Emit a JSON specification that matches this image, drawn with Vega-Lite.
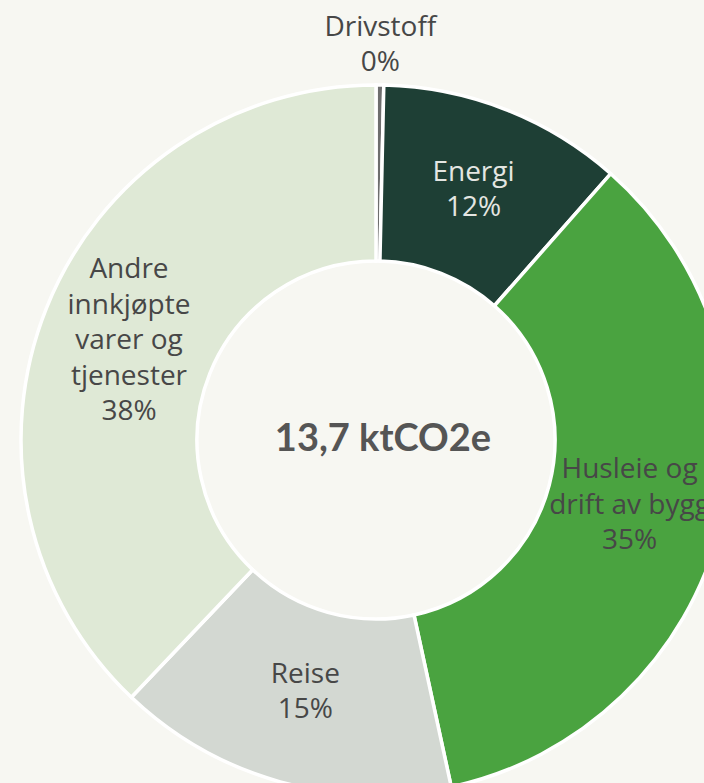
{
  "$schema": "https://vega.github.io/schema/vega-lite/v6.json",
  "width": 752,
  "height": 880,
  "padding": 0,
  "autosize": "none",
  "background": "#f7f7f2",
  "config": {"view": {"stroke": null}},
  "data": {
    "values": [
      {"order": 1, "name": "Drivstoff", "value": 0.35, "lines": 2, "text": "Drivstoff\n0%"},
      {"order": 2, "name": "Energi", "value": 11.15, "lines": 2, "text": "Energi\n12%"},
      {"order": 3, "name": "Husleie og drift av bygg", "value": 35.1, "lines": 3, "text": "Husleie og\ndrift av bygg\n35%"},
      {"order": 4, "name": "Reise", "value": 15.5, "lines": 2, "text": "Reise\n15%"},
      {"order": 5, "name": "Andre innkjøpte varer og tjenester", "value": 37.9, "lines": 5, "text": "Andre\ninnkjøpte\nvarer og\ntjenester\n38%"}
    ]
  },
  "encoding": {
    "theta": {"field": "value", "type": "quantitative", "stack": true},
    "order": {"field": "order", "type": "quantitative"}
  },
  "layer": [
    {
      "mark": {"type": "arc", "radius": 355, "radius2": 179, "stroke": "#ffffff", "strokeWidth": 3.5},
      "encoding": {
        "color": {
          "field": "name",
          "type": "nominal",
          "scale": {
            "domain": ["Drivstoff", "Energi", "Husleie og drift av bygg", "Reise", "Andre innkjøpte varer og tjenester"],
            "range": ["#6e6e6e", "#1e3f35", "#4aa340", "#d3d8d2", "#dfe9d6"]
          },
          "legend": null
        }
      }
    },
    {
      "mark": {"type": "text", "radius": 268, "dy": -17.5, "font": "Open Sans", "fontSize": 28, "lineBreak": "\n", "lineHeight": 35.5, "color": "#e4e6e2"},
      "encoding": {
        "text": {"field": "text", "type": "nominal"},
        "opacity": {"condition": {"test": "datum.name === 'Energi'", "value": 1}, "value": 0}
      }
    },
    {
      "mark": {"type": "text", "radius": 262, "dy": -17.5, "font": "Open Sans", "fontSize": 28, "lineBreak": "\n", "lineHeight": 35.5, "color": "#474747"},
      "encoding": {
        "text": {"field": "text", "type": "nominal"},
        "opacity": {"condition": {"test": "datum.name === 'Reise'", "value": 1}, "value": 0}
      }
    },
    {
      "mark": {"type": "text", "radius": 262, "dy": -35.5, "font": "Open Sans", "fontSize": 28, "lineBreak": "\n", "lineHeight": 35.5, "color": "#474747"},
      "encoding": {
        "text": {"field": "text", "type": "nominal"},
        "opacity": {"condition": {"test": "datum.lines === 3", "value": 1}, "value": 0}
      }
    },
    {
      "mark": {"type": "text", "radius": 266, "dy": -71, "font": "Open Sans", "fontSize": 28, "lineBreak": "\n", "lineHeight": 35.5, "color": "#474747"},
      "encoding": {
        "text": {"field": "text", "type": "nominal"},
        "opacity": {"condition": {"test": "datum.lines === 5", "value": 1}, "value": 0}
      }
    },
    {
      "mark": {"type": "text", "radius": 395, "dy": -17, "font": "Open Sans", "fontSize": 28, "lineBreak": "\n", "lineHeight": 34.5, "color": "#474747"},
      "encoding": {
        "text": {"field": "text", "type": "nominal"},
        "opacity": {"condition": {"test": "datum.name === 'Drivstoff'", "value": 1}, "value": 0}
      }
    },
    {
      "data": {"values": [{"total": "13,7 ktCO2e"}]},
      "mark": {"type": "text", "font": "Lato", "fontSize": 38, "fontWeight": "bold", "color": "#555555", "dx": 7},
      "encoding": {"text": {"field": "total", "type": "nominal"}, "theta": null, "order": null}
    }
  ]
}
